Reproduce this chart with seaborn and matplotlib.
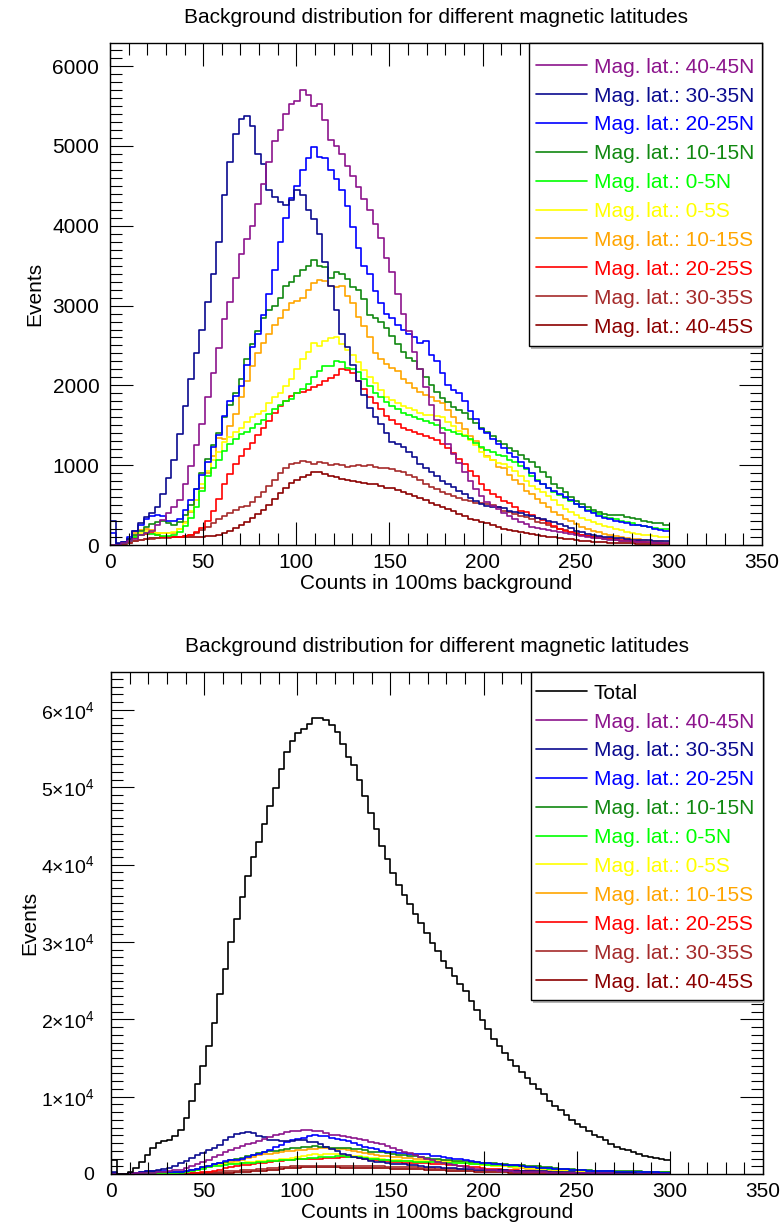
import numpy as np
import pandas as pd
import matplotlib
matplotlib.use("Agg")
import matplotlib.pyplot as plt
import matplotlib.transforms as mtransforms
import seaborn as sns
from matplotlib.patches import Rectangle
from matplotlib.lines import Line2D
from matplotlib.ticker import MultipleLocator, FuncFormatter

# ---------------- data ----------------
BIN_WIDTH = 3
BIN_RANGE = (0, 300)
BIN_CENTERS = np.arange(BIN_RANGE[0], BIN_RANGE[1], BIN_WIDTH) + BIN_WIDTH / 2

series_labels = ["Mag. lat.: 40-45N", "Mag. lat.: 30-35N", "Mag. lat.: 20-25N",
                 "Mag. lat.: 10-15N", "Mag. lat.: 0-5N", "Mag. lat.: 0-5S",
                 "Mag. lat.: 10-15S", "Mag. lat.: 20-25S", "Mag. lat.: 30-35S",
                 "Mag. lat.: 40-45S"]
series_colors = ["#8c148c", "#0b0b8f", "#0000ff", "#118811", "#00ff00",
                 "#ffff00", "#ffa500", "#ff0000", "#a52a2a", "#8b0000"]
total_label = "Total"
total_color = "#000000"

lat_40_45N = [0, 5, 20, 45, 80, 120, 150, 180, 250, 310,
              400, 470, 560, 760, 990, 1250, 1520, 1860, 2150, 2470,
              2830, 3050, 3350, 3650, 3840, 4000, 4270, 4520, 4800, 5060,
              5200, 5400, 5520, 5560, 5700, 5640, 5500, 5520, 5320, 5080,
              5000, 4900, 4750, 4620, 4480, 4340, 4200, 4020, 3850, 3600,
              3420, 3150, 2900, 2680, 2420, 2200, 1980, 1760, 1560, 1400,
              1270, 1140, 1030, 920, 800, 700, 610, 540, 490, 450,
              400, 360, 320, 290, 260, 230, 215, 200, 185, 170,
              158, 148, 135, 120, 110, 100, 90, 82, 74, 68,
              60, 55, 50, 45, 40, 36, 32, 28, 25, 22]
lat_30_35N = [300, 20, 40, 80, 170, 270, 350, 400, 480, 640,
              840, 1070, 1390, 1740, 2080, 2400, 2700, 3050, 3400, 3800,
              4380, 4800, 5150, 5340, 5380, 5250, 4900, 4780, 4450, 4360,
              4300, 4260, 4320, 4450, 4380, 4200, 4080, 3900, 3550, 3250,
              2950, 2650, 2480, 2250, 2050, 1880, 1720, 1600, 1510, 1400,
              1290, 1260, 1230, 1160, 1100, 1020, 960, 910, 860, 800,
              760, 730, 680, 640, 590, 550, 510, 490, 480, 470,
              460, 430, 415, 395, 376, 360, 340, 325, 305, 290,
              260, 235, 210, 180, 160, 140, 125, 115, 105, 98,
              90, 84, 75, 65, 63, 62, 60, 56, 54, 52]
lat_20_25N = [150, 10, 40, 100, 170, 250, 330, 365, 375, 360,
              300, 300, 320, 440, 570, 700, 880, 1040, 1230, 1380,
              1620, 1800, 1870, 1990, 2250, 2480, 2640, 2880, 3150, 3450,
              3800, 4100, 4350, 4500, 4700, 4850, 4990, 4860, 4850, 4700,
              4580, 4450, 4250, 3990, 3720, 3500, 3400, 3180, 3030, 2900,
              2840, 2760, 2690, 2640, 2600, 2530, 2560, 2380, 2300, 2150,
              2010, 1940, 1900, 1800, 1680, 1580, 1450, 1400, 1330, 1260,
              1210, 1150, 1100, 1040, 960, 900, 800, 760, 720, 680,
              640, 600, 560, 510, 470, 430, 395, 365, 340, 325,
              305, 290, 270, 255, 245, 235, 225, 205, 185, 170]
lat_10_15N = [0, 10, 30, 70, 130, 180, 220, 260, 285, 295,
              270, 255, 290, 370, 500, 700, 900, 1080, 1250, 1400,
              1600, 1760, 1900, 2080, 2330, 2520, 2680, 2840, 2940, 3000,
              3100, 3240, 3300, 3370, 3440, 3500, 3570, 3500, 3480, 3340,
              3420, 3400, 3330, 3230, 3190, 3080, 2880, 2850, 2800, 2720,
              2620, 2520, 2420, 2340, 2300, 2200, 2100, 2000, 1920, 1840,
              1790, 1730, 1690, 1650, 1580, 1530, 1470, 1420, 1370, 1300,
              1270, 1220, 1180, 1130, 1080, 1040, 980, 920, 850, 760,
              710, 660, 600, 550, 510, 470, 440, 410, 385, 376,
              376, 370, 355, 340, 325, 300, 290, 280, 272, 255]
lat_0_5N = [0, 5, 20, 50, 95, 130, 145, 135, 120, 110,
            110, 130, 160, 240, 340, 480, 680, 860, 970, 1060,
            1180, 1260, 1330, 1390, 1420, 1460, 1520, 1570, 1640, 1710,
            1760, 1800, 1830, 1900, 1950, 2020, 2100, 2180, 2240, 2240,
            2300, 2290, 2220, 2200, 2170, 2080, 1990, 1910, 1850, 1790,
            1740, 1700, 1660, 1630, 1600, 1580, 1550, 1530, 1500, 1470,
            1440, 1410, 1390, 1370, 1330, 1280, 1230, 1190, 1160, 1130,
            1110, 1070, 1040, 990, 950, 870, 810, 760, 710, 670,
            630, 590, 550, 510, 470, 440, 410, 385, 355, 335,
            320, 305, 285, 270, 255, 235, 225, 215, 205, 197]
lat_0_5S = [0, 5, 25, 65, 110, 145, 180, 175, 155, 145,
            145, 160, 195, 280, 420, 570, 760, 930, 1060, 1170,
            1290, 1350, 1410, 1470, 1540, 1610, 1640, 1680, 1780, 1850,
            1910, 1990, 2080, 2200, 2330, 2420, 2530, 2490, 2550, 2590,
            2610, 2520, 2440, 2380, 2290, 2190, 2100, 2030, 1940, 1850,
            1820, 1780, 1740, 1720, 1690, 1660, 1630, 1630, 1620, 1610,
            1540, 1490, 1430, 1380, 1320, 1250, 1170, 1100, 1060, 1030,
            1020, 980, 930, 860, 800, 740, 700, 660, 610, 560,
            500, 450, 410, 370, 340, 310, 285, 260, 240, 220,
            200, 185, 165, 150, 138, 128, 120, 110, 103, 96]
lat_10_15S = [0, 5, 30, 70, 150, 190, 205, 190, 150, 145,
              145, 155, 200, 290, 410, 560, 720, 900, 1120, 1340,
              1330, 1490, 1640, 1860, 2060, 2240, 2400, 2530, 2640, 2760,
              2850, 2940, 3030, 3060, 3100, 3200, 3280, 3320, 3310, 3240,
              3230, 3250, 3120, 3030, 2860, 2740, 2600, 2400, 2330, 2270,
              2220, 2180, 2080, 2030, 1970, 1920, 1880, 1850, 1810, 1780,
              1690, 1600, 1530, 1450, 1370, 1300, 1210, 1120, 1070, 980,
              970, 880, 820, 760, 680, 640, 580, 520, 470, 410,
              370, 330, 300, 260, 230, 200, 175, 160, 140, 125,
              110, 98, 88, 78, 70, 62, 56, 50, 44, 40]
lat_20_25S = [0, 5, 25, 50, 90, 125, 140, 145, 120, 105,
              100, 95, 100, 115, 130, 160, 210, 300, 430, 580,
              760, 890, 1010, 1120, 1200, 1280, 1380, 1470, 1550, 1650,
              1740, 1810, 1870, 1900, 1920, 1940, 1980, 2000, 2050, 2090,
              2130, 2210, 2190, 2150, 2060, 1960, 1860, 1780, 1700, 1620,
              1560, 1520, 1470, 1440, 1420, 1390, 1360, 1340, 1310, 1270,
              1220, 1150, 1080, 1010, 930, 860, 760, 690, 640, 600,
              550, 520, 480, 430, 410, 380, 340, 310, 270, 235,
              205, 180, 160, 140, 125, 115, 105, 95, 88, 82,
              70, 63, 57, 50, 45, 40, 36, 32, 30, 29]
lat_30_35S = [0, 5, 15, 30, 45, 60, 70, 78, 84, 88,
              92, 96, 100, 110, 125, 150, 190, 230, 270, 320,
              360, 400, 440, 470, 490, 540, 600, 670, 740, 820,
              900, 960, 1010, 1030, 1050, 1040, 1020, 1040, 1030, 1000,
              1020, 1000, 980, 990, 1000, 990, 1000, 980, 970, 960,
              950, 930, 910, 880, 850, 810, 770, 730, 700, 670,
              640, 620, 590, 565, 550, 530, 520, 510, 495, 470,
              430, 410, 390, 360, 345, 320, 290, 270, 250, 230,
              205, 185, 165, 145, 130, 115, 100, 90, 80, 70,
              60, 55, 48, 42, 38, 33, 30, 26, 22, 20]
lat_40_45S = [0, 5, 15, 30, 45, 60, 72, 82, 90, 96,
              100, 103, 105, 105, 105, 106, 105, 108, 115, 122,
              150, 180, 210, 250, 290, 340, 390, 440, 500, 580,
              650, 720, 780, 820, 850, 880, 910, 920, 890, 860,
              850, 830, 810, 800, 790, 780, 770, 760, 740, 720,
              710, 690, 670, 640, 610, 585, 560, 530, 500, 470,
              445, 420, 390, 360, 330, 310, 290, 270, 250, 225,
              205, 190, 175, 160, 148, 135, 125, 115, 105, 95,
              88, 80, 70, 62, 55, 48, 42, 38, 34, 31,
              28, 25, 22, 20, 18, 16, 14, 13, 12, 10]
total_counts = [1800, 10, 40, 250, 800, 1550, 2450, 3400, 3950, 4250,
                4450, 4950, 5700, 7250, 9400, 11600, 14000, 16500, 19500, 23300,
                26500, 30000, 33000, 35800, 38500, 41000, 42900, 45300, 47600, 49900,
                52400, 54600, 56000, 57000, 57500, 58200, 58900, 58950, 58700, 58000,
                57100, 55600, 53900, 52900, 51000, 48900, 46700, 44600, 42400, 40700,
                38900, 37400, 36100, 34900, 33600, 32400, 31200, 29900, 28800, 27600,
                26600, 25600, 24600, 23600, 22400, 21200, 19950, 18700, 17500, 16500,
                15700, 14700, 13900, 13200, 12400, 11700, 11000, 10300, 9500, 8800,
                8250, 7650, 7000, 6500, 6030, 5550, 5100, 4750, 4350, 3850,
                3500, 3280, 3050, 2800, 2550, 2350, 2230, 2100, 1950, 1820]

series_values = [lat_40_45N, lat_30_35N, lat_20_25N, lat_10_15N, lat_0_5N,
                 lat_0_5S, lat_10_15S, lat_20_25S, lat_30_35S, lat_40_45S]

title_text = "Background distribution for different magnetic latitudes"
x_title = "Counts in 100ms background"
y_title = "Events"

# ---------------- tables ----------------
n_bins = len(BIN_CENTERS)
df_lat = pd.DataFrame({
    "x": np.tile(BIN_CENTERS, len(series_labels)),
    "w": np.concatenate([np.asarray(v, float) for v in series_values]),
    "series": np.repeat(series_labels, n_bins),
})
df_all = pd.concat([
    pd.DataFrame({"x": BIN_CENTERS, "w": np.asarray(total_counts, float),
                  "series": total_label}),
    df_lat,
], ignore_index=True)

palette = dict(zip(series_labels, series_colors))
palette_all = {total_label: total_color, **palette}

# ---------------- style ----------------
sns.set_theme(style="ticks")
plt.rcParams["font.family"] = ["Liberation Sans", "DejaVu Sans"]
plt.rcParams["mathtext.fontset"] = "custom"
plt.rcParams["mathtext.rm"] = "Liberation Sans"
plt.rcParams["mathtext.it"] = "Liberation Sans:italic"
plt.rcParams["mathtext.bf"] = "Liberation Sans:bold"
plt.rcParams["mathtext.default"] = "regular"

W, H = 784, 1226
FS = 15
LW = 1.2

fig = plt.figure(figsize=(W / 100, H / 100), dpi=100)


def rect(l, t, r, b):
    return [l / W, 1 - b / H, (r - l) / W, (b - t) / H]


ax1 = fig.add_axes(rect(110, 43, 762, 545))
ax2 = fig.add_axes(rect(111, 672, 763, 1174))

sns.histplot(data=df_lat, x="x", weights="w", hue="series",
             hue_order=series_labels, palette=palette,
             binwidth=BIN_WIDTH, binrange=BIN_RANGE,
             element="step", fill=False, legend=False, ax=ax1, linewidth=LW)
sns.histplot(data=df_all, x="x", weights="w", hue="series",
             hue_order=[total_label] + series_labels, palette=palette_all,
             binwidth=BIN_WIDTH, binrange=BIN_RANGE,
             element="step", fill=False, legend=False, ax=ax2, linewidth=LW)


def style_axes(ax, ymax, ymajor, yminor, ypad, ylab_x, ylab_fs):
    ax.set_xlim(0, 350)
    ax.set_ylim(0, ymax)
    ax.set_axisbelow(False)
    ax.xaxis.set_major_locator(MultipleLocator(50))
    ax.xaxis.set_minor_locator(MultipleLocator(10))
    ax.yaxis.set_major_locator(MultipleLocator(ymajor))
    ax.yaxis.set_minor_locator(MultipleLocator(yminor))
    ax.tick_params(which="both", direction="in", top=True, right=True,
                   colors="black", width=0.8, labelsize=FS)
    ax.tick_params(which="major", length=16.5)
    ax.tick_params(which="minor", length=8.5)
    ax.tick_params(axis="x", pad=5.5)
    ax.tick_params(axis="y", pad=ypad, labelsize=ylab_fs)
    for s in ax.spines.values():
        s.set_linewidth(1.0)
        s.set_color("black")
    ax.set_xlabel(x_title, fontsize=FS, va="center", color="black")
    ax.xaxis.set_label_coords(0.5, -0.0757)
    ax.set_ylabel(y_title, fontsize=FS, va="center", ha="center", color="black")
    ax.yaxis.set_label_coords(ylab_x, 0.5)
    ax.text(0.5, 1.0502, title_text, transform=ax.transAxes, ha="center",
            va="center", fontsize=FS, color="black")


style_axes(ax1, 6290, 1000, 100, 7.7, -0.1156, FS)
style_axes(ax2, 64900, 10000, 1000, 12.0, -0.1242, 14)


def sci_fmt(v, pos):
    if abs(v) < 1e-9:
        return "0"
    return r"$%d{\times}10^{4}$" % round(v / 1e4)


ax2.yaxis.set_major_formatter(FuncFormatter(sci_fmt))


def draw_legend(box, labels, colors, first_y, step):
    l, t, r, b = box
    shadow = Rectangle(((l + 2) / W, 1 - (b + 3) / H), (r - l) / W, (b - t) / H,
                       transform=fig.transFigure, facecolor="#b4b4b4",
                       edgecolor="none", zorder=9)
    frame = Rectangle((l / W, 1 - b / H), (r - l) / W, (b - t) / H,
                      transform=fig.transFigure, facecolor="white",
                      edgecolor="black", linewidth=1.0, zorder=10)
    fig.add_artist(shadow)
    fig.add_artist(frame)
    for i, (lab, col) in enumerate(zip(labels, colors)):
        y = first_y + i * step
        fig.add_artist(Line2D([536 / W, 587 / W], [1 - y / H, 1 - y / H],
                              transform=fig.transFigure, color=col,
                              linewidth=LW, zorder=11))
        fig.text(594 / W, 1 - (y + 7.6) / H, lab, color=col, fontsize=FS,
                 ha="left", va="baseline", zorder=11)


draw_legend((529, 43, 762, 346), series_labels, series_colors, 65, 28.9)
draw_legend((531, 672, 763, 1000), [total_label] + series_labels,
            [total_color] + series_colors, 691, 28.9)

fig.canvas.draw()
lab0 = ax2.yaxis.get_major_ticks()[0].label1
lab0.set_transform(lab0.get_transform() +
                   mtransforms.ScaledTranslation(0.06, 0, fig.dpi_scale_trans))

fig.savefig("out.png", dpi=100)
